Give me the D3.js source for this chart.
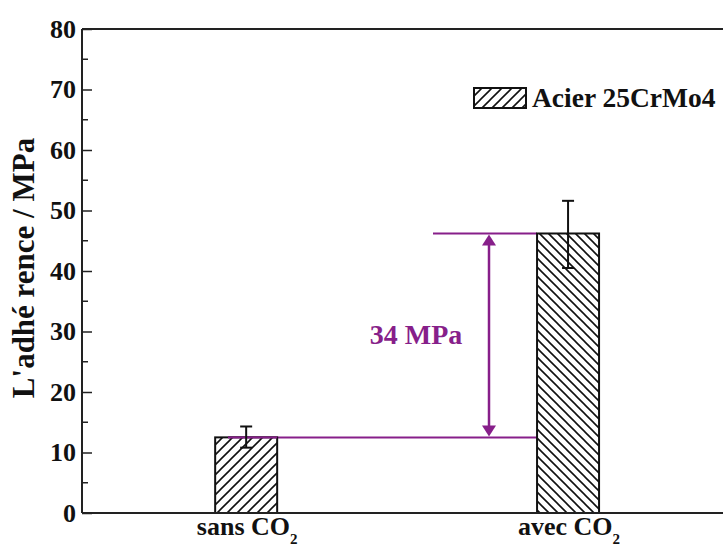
<!DOCTYPE html>
<html><head><meta charset="utf-8">
<script src="https://cdn.jsdelivr.net/npm/d3@7"></script>
<style>body{margin:0;background:#fff}svg{display:block}</style>
</head><body>
<svg id="c" width="723" height="546"></svg>
<script>
const categories = ["sans CO", "avec CO"];
const catPos = [1, 2];
const values = [12.5, 46.2];
const errLow = [10.8, 40.5];
const errHigh = [14.3, 51.6];
const yTicks = [0, 10, 20, 30, 40, 50, 60, 70, 80];
const legendLabel = "Acier 25CrMo4";
const diffLabel = "34 MPa";
const yTitle = "L'adhé rence / MPa";

const svg = d3.select("#c");
const font = "'Liberation Serif','Times New Roman',serif";
const purple = "#871f8a";
const L = 82, T = 29, B = 513;
const x = d3.scaleLinear().domain([0.49, 2.5]).range([L, 729]);
const y = d3.scaleLinear().domain([0, 80]).range([B, T]);
const barW = 62;

const defs = svg.append("defs");
function hatch(id, dir, sp) {
  const p = defs.append("pattern").attr("id", id).attr("patternUnits", "userSpaceOnUse")
    .attr("width", sp).attr("height", sp);
  p.append("rect").attr("width", sp).attr("height", sp).attr("fill", "#fff");
  const d = dir > 0
    ? `M0,${sp} L${sp},0 M${-sp/2},${sp/2} L${sp/2},${-sp/2} M${sp/2},${sp*1.5} L${sp*1.5},${sp/2}`
    : `M0,0 L${sp},${sp} M${-sp/2},${sp/2} L${sp/2},${sp*1.5} M${sp/2},${-sp/2} L${sp*1.5},${sp/2}`;
  p.append("path").attr("d", d).attr("stroke", "#111").attr("stroke-width", 1.6);
}
hatch("h1", 1, 10);
hatch("h2", -1, 9);

// purple guide lines (behind bars)
svg.append("line").attr("x1", 228).attr("x2", x(2) - barW/2).attr("y1", y(values[0])).attr("y2", y(values[0]))
  .attr("stroke", purple).attr("stroke-width", 2);
svg.append("line").attr("x1", 433).attr("x2", x(2) - barW/2).attr("y1", y(values[1])).attr("y2", y(values[1]))
  .attr("stroke", purple).attr("stroke-width", 2);

// bars
svg.selectAll("rect.bar").data(values).enter().append("rect").attr("class", "bar")
  .attr("x", (d, i) => x(catPos[i]) - barW/2).attr("width", barW)
  .attr("y", d => y(d)).attr("height", d => y(0) - y(d))
  .attr("fill", (d, i) => i === 0 ? "url(#h1)" : "url(#h2)")
  .attr("stroke", "#111").attr("stroke-width", 2);
// redraw purple over bar1 top
svg.append("line").attr("x1", 228).attr("x2", x(1) + barW/2).attr("y1", y(values[0])).attr("y2", y(values[0]))
  .attr("stroke", purple).attr("stroke-width", 2);

// error bars
values.forEach((v, i) => {
  const cx = x(catPos[i]);
  const g = svg.append("g").attr("stroke", "#111").attr("stroke-width", 2);
  g.append("line").attr("x1", cx).attr("x2", cx).attr("y1", y(errLow[i])).attr("y2", y(errHigh[i]));
  g.append("line").attr("x1", cx - 6).attr("x2", cx + 6).attr("y1", y(errLow[i])).attr("y2", y(errLow[i]));
  g.append("line").attr("x1", cx - 6).attr("x2", cx + 6).attr("y1", y(errHigh[i])).attr("y2", y(errHigh[i]));
});

// double arrow
const ax = 489;
const y1 = y(values[1]), y2 = y(values[0]);
svg.append("line").attr("x1", ax).attr("x2", ax).attr("y1", y1 + 8).attr("y2", y2 - 8)
  .attr("stroke", purple).attr("stroke-width", 2.5);
svg.append("path").attr("d", `M${ax},${y1+1} L${ax-7},${y1+12} L${ax+7},${y1+12} Z`).attr("fill", purple);
svg.append("path").attr("d", `M${ax},${y2-1} L${ax-7},${y2-12} L${ax+7},${y2-12} Z`).attr("fill", purple);
svg.append("text").attr("x", 416).attr("y", y((values[0] + values[1]) / 2) + 9)
  .attr("text-anchor", "middle").attr("font-family", font).attr("font-weight", "bold")
  .attr("font-size", 28).attr("fill", purple).text(diffLabel);

// axes frame
svg.append("line").attr("x1", L).attr("x2", 723).attr("y1", T).attr("y2", T).attr("stroke", "#222").attr("stroke-width", 2);
svg.append("line").attr("x1", L).attr("x2", 723).attr("y1", B).attr("y2", B).attr("stroke", "#222").attr("stroke-width", 2);

const yAxis = d3.axisLeft(y).tickValues(yTicks).tickSize(-10).tickPadding(16).tickFormat(d3.format("d"));
const gy = svg.append("g").attr("transform", `translate(${L},0)`).call(yAxis);
gy.select(".domain").attr("stroke", "#222").attr("stroke-width", 2).attr("d", `M0,${T}V${B}`);
gy.selectAll(".tick line").attr("stroke", "#222").attr("stroke-width", 1.5);
gy.selectAll(".tick text").attr("font-family", font).attr("font-weight", "bold").attr("font-size", 26).attr("fill", "#111").attr("dx", 10);
const minor = d3.range(5, 80, 10);
svg.append("g").selectAll("line").data(minor).enter().append("line")
  .attr("x1", L).attr("x2", L + 6).attr("y1", d => y(d)).attr("y2", d => y(d))
  .attr("stroke", "#222").attr("stroke-width", 1.5);

// x labels
categories.forEach((c, i) => {
  const t = svg.append("text").attr("x", x(catPos[i]) + 1).attr("y", 535).attr("text-anchor", "middle")
    .attr("font-family", font).attr("font-weight", "bold").attr("font-size", 26).attr("fill", "#111");
  t.append("tspan").text(c);
  t.append("tspan").attr("font-size", 15).attr("dy", 9).text("2");
});

// y title
svg.append("text").attr("transform", `translate(34,268) rotate(-90)`).attr("text-anchor", "middle")
  .attr("font-family", font).attr("font-weight", "bold").attr("font-size", 31).attr("fill", "#111").text(yTitle);

// legend
svg.append("rect").attr("x", 474).attr("y", 88).attr("width", 52).attr("height", 20)
  .attr("fill", "url(#h1)").attr("stroke", "#111").attr("stroke-width", 2);
svg.append("text").attr("x", 532).attr("y", 107).attr("font-family", font).attr("font-weight", "bold")
  .attr("font-size", 27.5).attr("fill", "#111").text(legendLabel);
</script>
</body></html>
